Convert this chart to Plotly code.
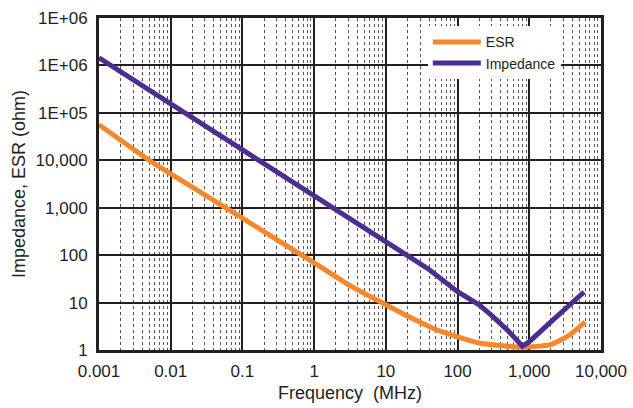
import plotly.graph_objects as go

# Frequency (MHz) and values (ohm)
imp_freq = [0.001, 0.01, 0.1, 1, 10, 40, 100, 200, 300, 500, 800, 1000, 2000, 4000, 5800]
imp_vals = [1.45e6, 1.55e5, 1.65e4, 1.75e3, 190, 50, 17, 9, 5.3, 2.6, 1.2, 1.5, 3.9, 10, 16.7]

esr_freq = [0.001, 0.005, 0.01, 0.1, 1, 3, 10, 20, 50, 100, 200, 500, 800, 2000, 3700, 6000]
esr_vals = [5.6e4, 1.0e4, 5.2e3, 600, 69, 24, 9, 5.2, 2.7, 1.9, 1.4, 1.2, 1.15, 1.3, 2.1, 3.9]

x_tickvals = [0.001, 0.01, 0.1, 1, 10, 100, 1000, 10000]
x_ticktext = ["0.001", "0.01", "0.1", "1", "10", "100", "1,000", "10,000"]
x_minor_vals = [m * d for d in x_tickvals[:-1] for m in range(2, 10)]
y_tickvals = [1, 10, 100, 1000, 10000, 1e5, 1e6, 1e7]
y_ticktext = ["1", "10", "100", "1,000", "10,000", "1E+05", "1E+06", "1E+06"]

ORANGE = "#F7872A"
PURPLE = "#4E2D90"
DARK = "#231F20"
FONT = "Liberation Sans, Arial, sans-serif"

fig = go.Figure()
fig.add_trace(go.Scatter(x=esr_freq, y=esr_vals, mode="lines", name="ESR",
                         line=dict(color=ORANGE, width=5, shape="spline", smoothing=0.6)))
fig.add_trace(go.Scatter(x=imp_freq, y=imp_vals, mode="lines", name="Impedance",
                         line=dict(color=PURPLE, width=5)))

fig.update_layout(
    width=633, height=408,
    margin=dict(l=99, r=32, t=18, b=58),
    paper_bgcolor="white", plot_bgcolor="white",
    font=dict(family=FONT, color=DARK, size=15),
    showlegend=True,
    legend=dict(x=0.655, y=0.975, xanchor="left", yanchor="top",
                bgcolor="white", borderwidth=0,
                font=dict(size=14, color=DARK),
                itemwidth=48, tracegroupgap=6),
)
fig.update_xaxes(
    type="log", range=[-3, 4], automargin=False,
    tickvals=x_tickvals, ticktext=x_ticktext,
    tickfont=dict(size=17),
    showgrid=True, gridcolor=DARK, gridwidth=1.6,
    minor=dict(tickmode="array", tickvals=x_minor_vals, showgrid=True,
               gridcolor="#555555", griddash="dot", gridwidth=1, ticks=""),
    showline=True, linecolor=DARK, linewidth=3, mirror=True,
    ticks="outside", ticklen=4, tickcolor="rgba(0,0,0,0)",
    zeroline=False,
    title=dict(text="Frequency\u00a0 (MHz)", font=dict(size=18), standoff=6),
)
fig.update_yaxes(
    type="log", range=[0, 7], automargin=False,
    tickvals=y_tickvals, ticktext=y_ticktext,
    tickfont=dict(size=17),
    showgrid=True, gridcolor=DARK, gridwidth=1.6,
    showline=True, linecolor=DARK, linewidth=3, mirror=True,
    ticks="outside", ticklen=5, tickcolor="rgba(0,0,0,0)",
    zeroline=False,
    title=dict(text="Impedance, ESR (ohm)", font=dict(size=18), standoff=6),
)

fig.write_html("out.html", config={"displayModeBar": False},
               post_script="document.body.style.margin='0';document.body.style.overflow='hidden';")
